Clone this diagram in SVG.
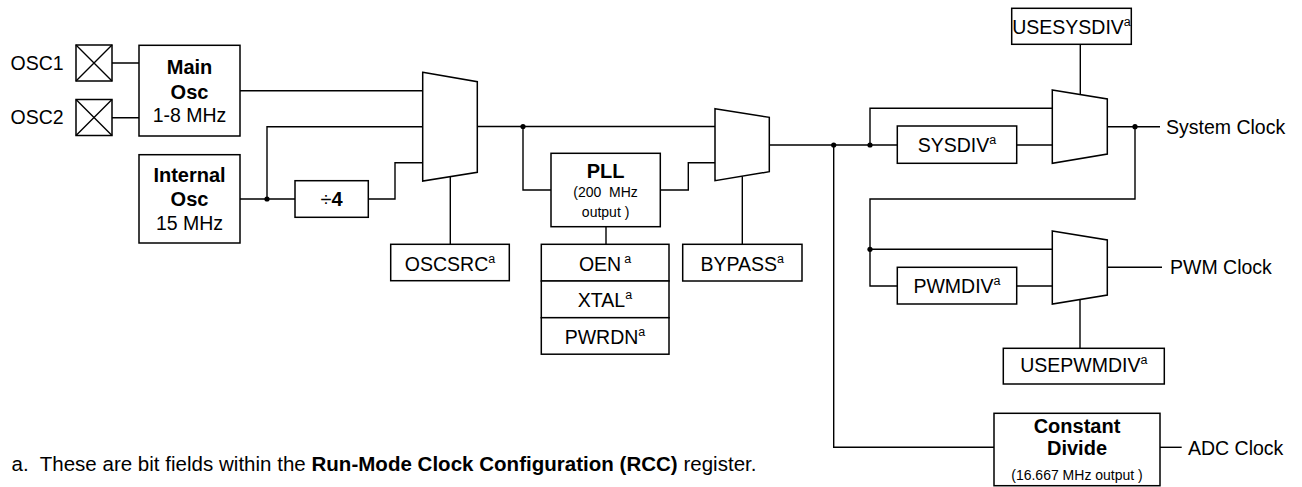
<svg xmlns="http://www.w3.org/2000/svg" width="1302" height="487" viewBox="0 0 1302 487">
<style>
text{font-family:"Liberation Sans",Arial,sans-serif;fill:#000}
.t{font-size:19.5px}
.b{font-size:20px;font-weight:bold}
.s{font-size:14px}
.m{text-anchor:middle}
.sup{font-size:12.5px}
.box{fill:#fff;stroke:#000;stroke-width:1.5}
.w{fill:none;stroke:#000;stroke-width:1.4}
.dot{fill:#000}
</style>
<rect width="1302" height="487" fill="#fff"/>
<g id="connectors" class="w">
<path d="M112 63H139M112 117.7H139"/>
<path d="M240 90.7H423"/>
<path d="M240 199H295M267 199V126.7H423"/>
<path d="M368 199H395V162.7H423"/>
<path d="M450.3 176.6V244.3"/>
<path d="M477 126.5H715"/>
<path d="M523 126.5V190H551"/>
<path d="M660 190H688.3V162.7H715"/>
<path d="M742.3 176.2V244.3"/>
<path d="M606 226.7V244.3"/>
<path d="M769 145H897M1017 145H1052"/>
<path d="M870 145V108.3H1052"/>
<path d="M1080.3 44.3V94.6"/>
<path d="M1107 126.7H1160"/>
<path d="M1135 126.7V199H870V286H897M1017 286H1052"/>
<path d="M870 249.3H1052"/>
<path d="M1107 267.3H1162"/>
<path d="M1080 299.4V348.3"/>
<path d="M833.7 145V447.3H994"/>
<path d="M1160 447.3H1181.7"/>
</g>
<g id="dots">
<circle class="dot" cx="267" cy="199" r="2.6"/>
<circle class="dot" cx="523" cy="126.5" r="2.6"/>
<circle class="dot" cx="833.7" cy="145" r="2.6"/>
<circle class="dot" cx="870" cy="145" r="2.6"/>
<circle class="dot" cx="1135" cy="126.7" r="2.6"/>
<circle class="dot" cx="870" cy="249.3" r="2.6"/>
</g>
<g id="osc1">
<text class="t" x="10.5" y="69.5">OSC1</text>
<rect class="box" x="76" y="45" width="36" height="36"/>
<path class="w" d="M76 45L112 81M112 45L76 81"/>
</g>
<g id="osc2">
<text class="t" x="10.5" y="124">OSC2</text>
<rect class="box" x="76" y="99.5" width="36" height="36"/>
<path class="w" d="M76 99.5L112 135.5M112 99.5L76 135.5"/>
</g>
<g id="main-osc">
<rect class="box" x="139" y="45.3" width="101" height="90.7"/>
<text class="b m" x="189.5" y="73.5">Main</text>
<text class="b m" x="189.5" y="98.5">Osc</text>
<text class="t m" x="189.5" y="121.5">1-8 MHz</text>
</g>
<g id="internal-osc">
<rect class="box" x="139" y="154.7" width="101" height="88.3"/>
<text class="b m" x="189.5" y="182">Internal</text>
<text class="b m" x="189.5" y="206">Osc</text>
<text class="t m" x="189.5" y="229.5">15 MHz</text>
</g>
<g id="div4">
<rect class="box" x="295" y="180.7" width="73.3" height="36.6"/>
<text class="m" x="331.5" y="206" style="font-size:20px"><tspan>÷</tspan><tspan font-weight="bold">4</tspan></text>
</g>
<g id="mux-oscsrc">
<path class="box" d="M422.7 72.3L477.3 81.7V172.3L422.7 181Z"/>
</g>
<g id="oscsrc">
<rect class="box" x="390.7" y="244.3" width="118.6" height="36.4"/>
<text class="t m" x="450" y="270.5">OSCSRC<tspan class="sup" dy="-8">a</tspan></text>
</g>
<g id="pll">
<rect class="box" x="551" y="153.3" width="109.3" height="73.4"/>
<text class="b m" x="605.6" y="178">PLL</text>
<text class="s m" x="605.6" y="197" xml:space="preserve">(200  MHz</text>
<text class="s m" x="605.6" y="216.5">output )</text>
</g>
<g id="oen">
<rect class="box" x="541.3" y="244.3" width="127.7" height="36.7"/>
<text class="t m" x="605" y="270.5">OEN<tspan class="sup" dx="3" dy="-8">a</tspan></text>
</g>
<g id="xtal">
<rect class="box" x="541.3" y="281" width="127.7" height="36.7"/>
<text class="t m" x="605" y="307">XTAL<tspan class="sup" dy="-8">a</tspan></text>
</g>
<g id="pwrdn">
<rect class="box" x="541.3" y="317.7" width="127.7" height="36.5"/>
<text class="t m" x="605" y="343.5">PWRDN<tspan class="sup" dy="-8">a</tspan></text>
</g>
<g id="mux-bypass">
<path class="box" d="M715 108.7L769.3 117.3V171.7L715 180.7Z"/>
</g>
<g id="bypass">
<rect class="box" x="682.7" y="244.3" width="119.3" height="36.7"/>
<text class="t m" x="742.3" y="270.5">BYPASS<tspan class="sup" dy="-8">a</tspan></text>
</g>
<g id="sysdiv">
<rect class="box" x="897.3" y="126" width="119.4" height="37.3"/>
<text class="t m" x="957" y="152">SYSDIV<tspan class="sup" dy="-8">a</tspan></text>
</g>
<g id="mux-usesysdiv">
<path class="box" d="M1052.3 90L1107.3 99V154L1052.3 163.3Z"/>
</g>
<g id="usesysdiv">
<rect class="box" x="1011.7" y="8.3" width="119.6" height="36"/>
<text class="t m" x="1071.5" y="33.5">USESYSDIV<tspan class="sup" dy="-8">a</tspan></text>
</g>
<g id="system-clock">
<text class="t" x="1166" y="133.5">System Clock</text>
</g>
<g id="pwmdiv">
<rect class="box" x="897.3" y="267.3" width="119.4" height="36.7"/>
<text class="t m" x="957" y="293">PWMDIV<tspan class="sup" dy="-8">a</tspan></text>
</g>
<g id="mux-usepwmdiv">
<path class="box" d="M1052.3 231L1107.3 240V295L1052.3 304Z"/>
</g>
<g id="usepwmdiv">
<rect class="box" x="1003.3" y="348.3" width="161" height="35.7"/>
<text class="t m" x="1083.8" y="372">USEPWMDIV<tspan class="sup" dy="-8">a</tspan></text>
</g>
<g id="pwm-clock">
<text class="t" x="1170" y="274">PWM Clock</text>
</g>
<g id="constant-divide">
<rect class="box" x="994" y="413.3" width="166" height="72.4"/>
<text class="b m" x="1077" y="433">Constant</text>
<text class="b m" x="1077" y="455">Divide</text>
<text class="s m" x="1077" y="480">(16.667 MHz output )</text>
</g>
<g id="adc-clock">
<text class="t" x="1188" y="454.5">ADC Clock</text>
</g>
<g id="footnote">
<text x="11.5" y="471" style="font-size:20.5px" textLength="745" lengthAdjust="spacing" xml:space="preserve">a.  These are bit fields within the <tspan font-weight="bold">Run-Mode Clock Configuration (RCC)</tspan> register.</text>
</g>
</svg>
